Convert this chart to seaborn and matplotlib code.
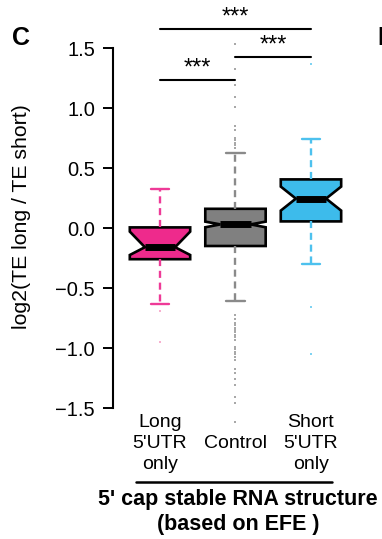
import matplotlib
matplotlib.use('Agg')
import matplotlib.pyplot as plt
import seaborn as sns
from matplotlib.lines import Line2D

# values
groups = ["Long\n5'UTR\nonly", "Control", "Short\n5'UTR\nonly"]
q1 = [-0.26, -0.15, 0.055]
med = [-0.16, 0.03, 0.245]
q3 = [0.005, 0.16, 0.405]
whis_lo = [-0.63, -0.61, -0.30]
whis_hi = [0.325, 0.625, 0.745]
notch_lo = [-0.225, 0.006, 0.145]
notch_hi = [-0.03, 0.053, 0.345]
fliers_long = [-0.69, -0.95]
fliers_control = [1.53, 1.325, 1.19, 1.09, 1.01, 0.85, 0.82, 0.75, 0.73, 0.71, 0.69, 0.67,
                  -0.725, -0.76, -0.79, -0.81, -0.83, -0.85, -0.87, -0.89, -0.91, -0.93,
                  -0.99, -1.01, -1.03, -1.05, -1.075, -1.10, -1.175, -1.21, -1.26, -1.31,
                  -1.405, -1.455, -1.62]
fliers_short = [1.37, -0.655, -1.05]
fliers = [fliers_long, fliers_control, fliers_short]

sig_pairs = [(0, 2), (1, 2), (0, 1)]
sig_heights = [1.66, 1.425, 1.233]
sig_labels = ['***', '***', '***']

box_colors = ['#EE2A8C', '#808080', '#3DBBEB']
whisker_colors = ['#EE3A97', '#8A8A8A', '#4DC1EE']
flier_colors = ['#F7B0CF', '#A8A8A8', '#7FD3F2']

sns.set_style('ticks')
plt.rcParams['font.family'] = ['Liberation Sans', 'DejaVu Sans']
plt.rcParams['text.color'] = 'black'
plt.rcParams['axes.labelcolor'] = 'black'
plt.rcParams['xtick.color'] = 'black'
plt.rcParams['ytick.color'] = 'black'

fig = plt.figure(figsize=(3.82, 5.39), dpi=100)
ax = fig.add_axes([113 / 382, 1 - 426 / 539, (350 - 113) / 382, (426 - 18) / 539])

stats = []
for i in range(3):
    stats.append(dict(q1=q1[i], med=med[i], q3=q3[i], whislo=whis_lo[i], whishi=whis_hi[i],
                      cilo=notch_lo[i], cihi=notch_hi[i], fliers=fliers[i]))

bp = ax.bxp(stats, positions=[0, 1, 2], widths=0.8, capwidths=0.25, shownotches=True,
            patch_artist=True,
            boxprops=dict(edgecolor='black', linewidth=1.9),
            medianprops=dict(color='black', linewidth=5, solid_capstyle='butt'),
            whiskerprops=dict(linestyle=(0, (3, 2)), linewidth=1.7),
            capprops=dict(linewidth=1.7),
            flierprops=dict(marker='s', markersize=2.0, markeredgewidth=0, linestyle='none'))

for i in range(3):
    bp['boxes'][i].set_facecolor(box_colors[i])
    for w in bp['whiskers'][2 * i:2 * i + 2]:
        w.set_color(whisker_colors[i])
    for c in bp['caps'][2 * i:2 * i + 2]:
        c.set_color(whisker_colors[i])
    bp['fliers'][i].set_markerfacecolor(flier_colors[i])

# significance bars
for (a, b), h, lab in zip(sig_pairs, sig_heights, sig_labels):
    ax.plot([a, b], [h, h], color='black', linewidth=1.5, clip_on=False)
    ax.text((a + b) / 2, h + 0.045, lab, ha='center', va='baseline', fontsize=17, clip_on=False)

ax.set_xlim(-0.6225, 2.517)
ax.set_ylim(-1.65, 1.75)
ax.set_yticks([-1.5, -1.0, -0.5, 0.0, 0.5, 1.0, 1.5])
ax.set_yticklabels(['\u22121.5', '\u22121.0', '\u22120.5', '0.0', '0.5', '1.0', '1.5'])
ax.set_xticks([0, 1, 2])
ax.set_xticklabels(groups)
for t in ax.get_xticklabels():
    t.set_va('center')
    t.set_linespacing(1.28)
ax.tick_params(axis='x', length=0, pad=12.5, labelsize=14)
ax.tick_params(axis='y', length=7, width=1.4, pad=6, labelsize=14.5)
ax.grid(False)
sns.despine(ax=ax, bottom=True)
ax.spines['left'].set_bounds(-1.5, 1.5)
ax.spines['left'].set_linewidth(1.5)
ax.spines['left'].set_color('black')

fig.text(22 / 382, 1 - 217 / 539, 'log2(TE long / TE short)', rotation=90,
         ha='center', va='center', fontsize=15.3)
fig.text(21 / 382, 1 - 38 / 539, 'C', ha='center', va='center', fontsize=18, fontweight='bold')
fig.text(377 / 382, 1 - 38 / 539, 'D', ha='left', va='center', fontsize=18, fontweight='bold')

fig.add_artist(Line2D([136 / 382, 332 / 382], [1 - 482 / 539, 1 - 482 / 539],
                      color='black', linewidth=1.8))
fig.text(238 / 382, 1 - 512 / 539, "5' cap stable RNA structure\n(based on EFE )",
         ha='center', va='center', fontsize=15.5, fontweight='bold', linespacing=1.2)

fig.savefig('out.png', dpi=100)
